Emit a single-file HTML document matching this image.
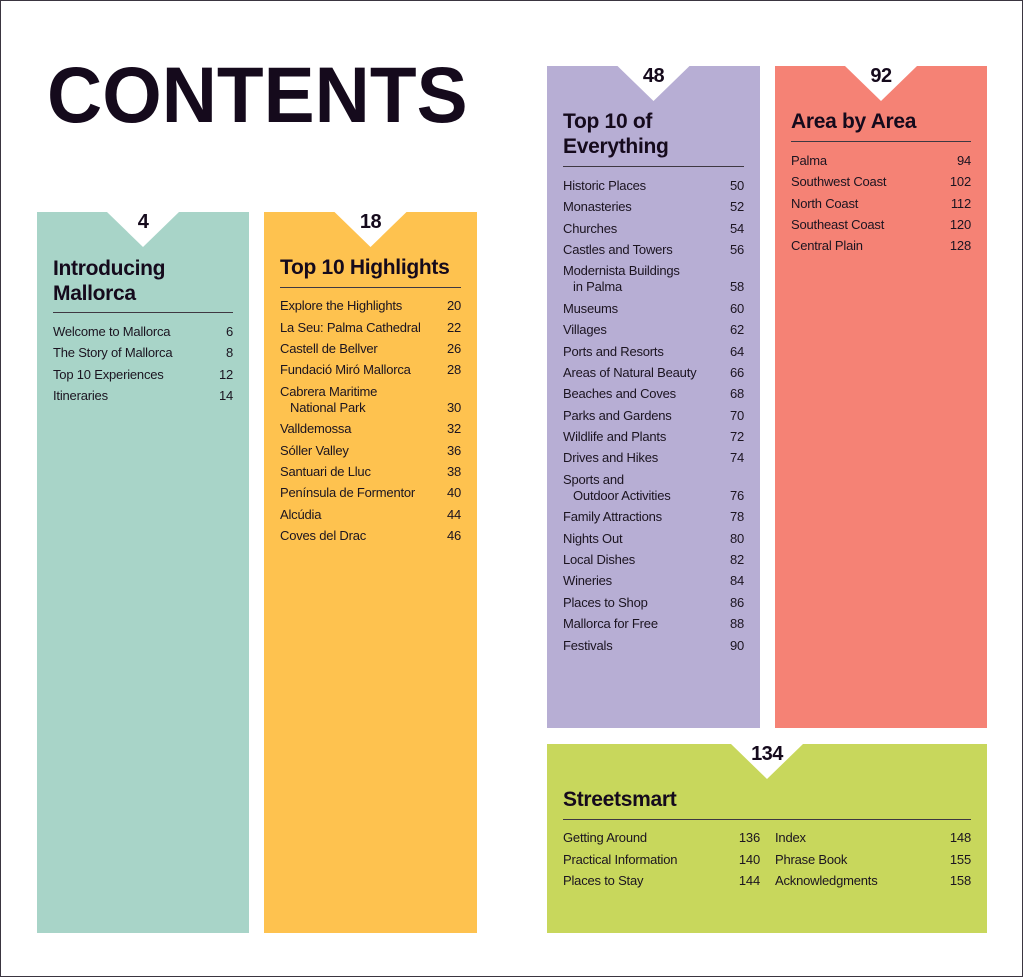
<!DOCTYPE html>
<html><head><meta charset="utf-8">
<style>
html,body{margin:0;padding:0;background:#fff;}
body{width:1024px;height:978px;position:relative;overflow:hidden;font-family:"Liberation Sans",Arial,sans-serif;color:#1b1420;}
.frame{position:absolute;left:0;top:0;width:1023px;height:977px;box-sizing:border-box;border:1px solid #3a3540;}
.title{position:absolute;left:46.5px;top:55px;font-size:79px;line-height:79px;font-weight:bold;letter-spacing:0;color:#150a1c;white-space:nowrap;transform:scaleX(0.968);transform-origin:0 0;}
.panel{position:absolute;}
.num{position:absolute;width:80px;text-align:center;font-size:20px;line-height:20px;font-weight:bold;color:#150a1c;letter-spacing:-0.5px;}
.h{position:absolute;font-size:21px;line-height:25px;font-weight:bold;letter-spacing:-0.3px;color:#150a1c;white-space:nowrap;}
.rule{position:absolute;height:1px;background:#3e3842;}
.list{position:absolute;font-size:13px;letter-spacing:-0.2px;color:#1b1420;}
.it{position:relative;line-height:16px;margin-bottom:5.4px;white-space:nowrap;}
.it .p{position:absolute;right:0;bottom:0;}
.ind{padding-left:10px;}
</style></head>
<body>
<div class="frame"></div>
<div class="title">CONTENTS</div>

<!-- Teal -->
<div class="panel" style="left:37px;top:212px;width:212px;height:721px;background:#a8d4c8;clip-path:polygon(0 0,70px 0,106px 35px,142px 0,100% 0,100% 100%,0 100%);"></div>
<div class="num" style="left:103px;top:211.7px;">4</div>
<div class="h" style="left:53px;top:255.5px;">Introducing<br>Mallorca</div>
<div class="rule" style="left:53px;top:312px;width:180px;"></div>
<div class="list" style="left:53px;top:323.8px;width:180px;">
<div class="it">Welcome to Mallorca<span class="p">6</span></div>
<div class="it">The Story of Mallorca<span class="p">8</span></div>
<div class="it">Top 10 Experiences<span class="p">12</span></div>
<div class="it">Itineraries<span class="p">14</span></div>
</div>

<!-- Yellow -->
<div class="panel" style="left:264px;top:212px;width:213px;height:721px;background:#fec24f;clip-path:polygon(0 0,70.5px 0,106.5px 35px,142.5px 0,100% 0,100% 100%,0 100%);"></div>
<div class="num" style="left:330.5px;top:211.7px;">18</div>
<div class="h" style="left:280px;top:254.7px;">Top 10 Highlights</div>
<div class="rule" style="left:280px;top:287px;width:181px;"></div>
<div class="list" style="left:280px;top:298.2px;width:181px;">
<div class="it">Explore the Highlights<span class="p">20</span></div>
<div class="it">La Seu: Palma Cathedral<span class="p">22</span></div>
<div class="it">Castell de Bellver<span class="p">26</span></div>
<div class="it">Fundació Miró Mallorca<span class="p">28</span></div>
<div class="it">Cabrera Maritime<br><span class="ind">National Park</span><span class="p">30</span></div>
<div class="it">Valldemossa<span class="p">32</span></div>
<div class="it">Sóller Valley<span class="p">36</span></div>
<div class="it">Santuari de Lluc<span class="p">38</span></div>
<div class="it">Península de Formentor<span class="p">40</span></div>
<div class="it">Alcúdia<span class="p">44</span></div>
<div class="it">Coves del Drac<span class="p">46</span></div>
</div>

<!-- Purple -->
<div class="panel" style="left:547px;top:66px;width:213px;height:662px;background:#b7aed4;clip-path:polygon(0 0,70.5px 0,106.5px 35px,142.5px 0,100% 0,100% 100%,0 100%);"></div>
<div class="num" style="left:613.5px;top:65.5px;">48</div>
<div class="h" style="left:563px;top:108.9px;">Top 10 of<br>Everything</div>
<div class="rule" style="left:563px;top:166px;width:181px;"></div>
<div class="list" style="left:563px;top:177.8px;width:181px;">
<div class="it">Historic Places<span class="p">50</span></div>
<div class="it">Monasteries<span class="p">52</span></div>
<div class="it">Churches<span class="p">54</span></div>
<div class="it">Castles and Towers<span class="p">56</span></div>
<div class="it">Modernista Buildings<br><span class="ind">in Palma</span><span class="p">58</span></div>
<div class="it">Museums<span class="p">60</span></div>
<div class="it">Villages<span class="p">62</span></div>
<div class="it">Ports and Resorts<span class="p">64</span></div>
<div class="it">Areas of Natural Beauty<span class="p">66</span></div>
<div class="it">Beaches and Coves<span class="p">68</span></div>
<div class="it">Parks and Gardens<span class="p">70</span></div>
<div class="it">Wildlife and Plants<span class="p">72</span></div>
<div class="it">Drives and Hikes<span class="p">74</span></div>
<div class="it">Sports and<br><span class="ind">Outdoor Activities</span><span class="p">76</span></div>
<div class="it">Family Attractions<span class="p">78</span></div>
<div class="it">Nights Out<span class="p">80</span></div>
<div class="it">Local Dishes<span class="p">82</span></div>
<div class="it">Wineries<span class="p">84</span></div>
<div class="it">Places to Shop<span class="p">86</span></div>
<div class="it">Mallorca for Free<span class="p">88</span></div>
<div class="it">Festivals<span class="p">90</span></div>
</div>

<!-- Salmon -->
<div class="panel" style="left:775px;top:66px;width:212px;height:662px;background:#f58275;clip-path:polygon(0 0,70px 0,106px 35px,142px 0,100% 0,100% 100%,0 100%);"></div>
<div class="num" style="left:841px;top:65.5px;">92</div>
<div class="h" style="left:791px;top:109.2px;">Area by Area</div>
<div class="rule" style="left:791px;top:140.5px;width:180px;"></div>
<div class="list" style="left:791px;top:152.8px;width:180px;">
<div class="it">Palma<span class="p">94</span></div>
<div class="it">Southwest Coast<span class="p">102</span></div>
<div class="it">North Coast<span class="p">112</span></div>
<div class="it">Southeast Coast<span class="p">120</span></div>
<div class="it">Central Plain<span class="p">128</span></div>
</div>

<!-- Green -->
<div class="panel" style="left:547px;top:744px;width:440px;height:189px;background:#c8d75c;clip-path:polygon(0 0,184px 0,220px 35px,256px 0,100% 0,100% 100%,0 100%);"></div>
<div class="num" style="left:727px;top:743.7px;">134</div>
<div class="h" style="left:563px;top:787px;">Streetsmart</div>
<div class="rule" style="left:563px;top:818.5px;width:408px;"></div>
<div class="list" style="left:563px;top:830.2px;width:197px;">
<div class="it">Getting Around<span class="p">136</span></div>
<div class="it">Practical Information<span class="p">140</span></div>
<div class="it">Places to Stay<span class="p">144</span></div>
</div>
<div class="list" style="left:775px;top:830.2px;width:196px;">
<div class="it">Index<span class="p">148</span></div>
<div class="it">Phrase Book<span class="p">155</span></div>
<div class="it">Acknowledgments<span class="p">158</span></div>
</div>
</body></html>
